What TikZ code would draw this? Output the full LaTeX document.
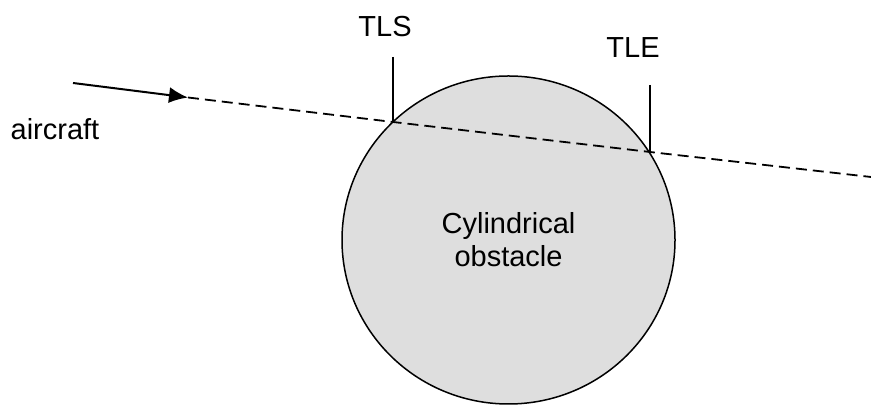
\documentclass[tikz,border=0pt]{standalone}
\usepackage{fontspec}
\setmainfont{Liberation Sans}
\usetikzlibrary{arrows.meta,shapes.geometric}
\begin{document}
\begin{tikzpicture}[>={Latex[length=9.5pt,width=8pt]}, x=.5pt, y=.5pt,
		lbl/.style={font=\fontsize{14.5}{16.5}\selectfont, inner sep=0pt},
		path/.style={line width=.9pt, dash pattern=on 5.5pt off 3pt},
		tick/.style={line width=.9pt},
		obstacle/.style={ellipse, draw, line width=.75pt, fill=black!13, minimum width=166.5pt, minimum height=164pt, align=center, inner sep=0pt}]
		\useasboundingbox (0,0) rectangle (871,405);
		\node[obstacle, lbl] (obst) at (508.5,165) {Cylindrical\\obstacle};
		\coordinate (start) at (73,322);
		\coordinate (tip) at (188,307.5);
		\coordinate (tls) at (393,283);
		\coordinate (tle) at (650,253);
		\coordinate (far) at (871,228);
		\coordinate (tlstop) at (393,348);
		\coordinate (tletop) at (650,320);
		\draw[->, line width=1pt] (start)--(tip);
		\draw[path] (tip)--(tls)--(tle)--(far);
		\draw[tick] (tlstop)--(tls);
		\draw[tick] (tletop)--(tle);
		\node[lbl] (TLS) at (385,378){TLS};
		\node[lbl] (TLE) at (633,357){TLE};
		\node[lbl] (aircraft) at (55,276){aircraft};
\end{tikzpicture}
\end{document}
